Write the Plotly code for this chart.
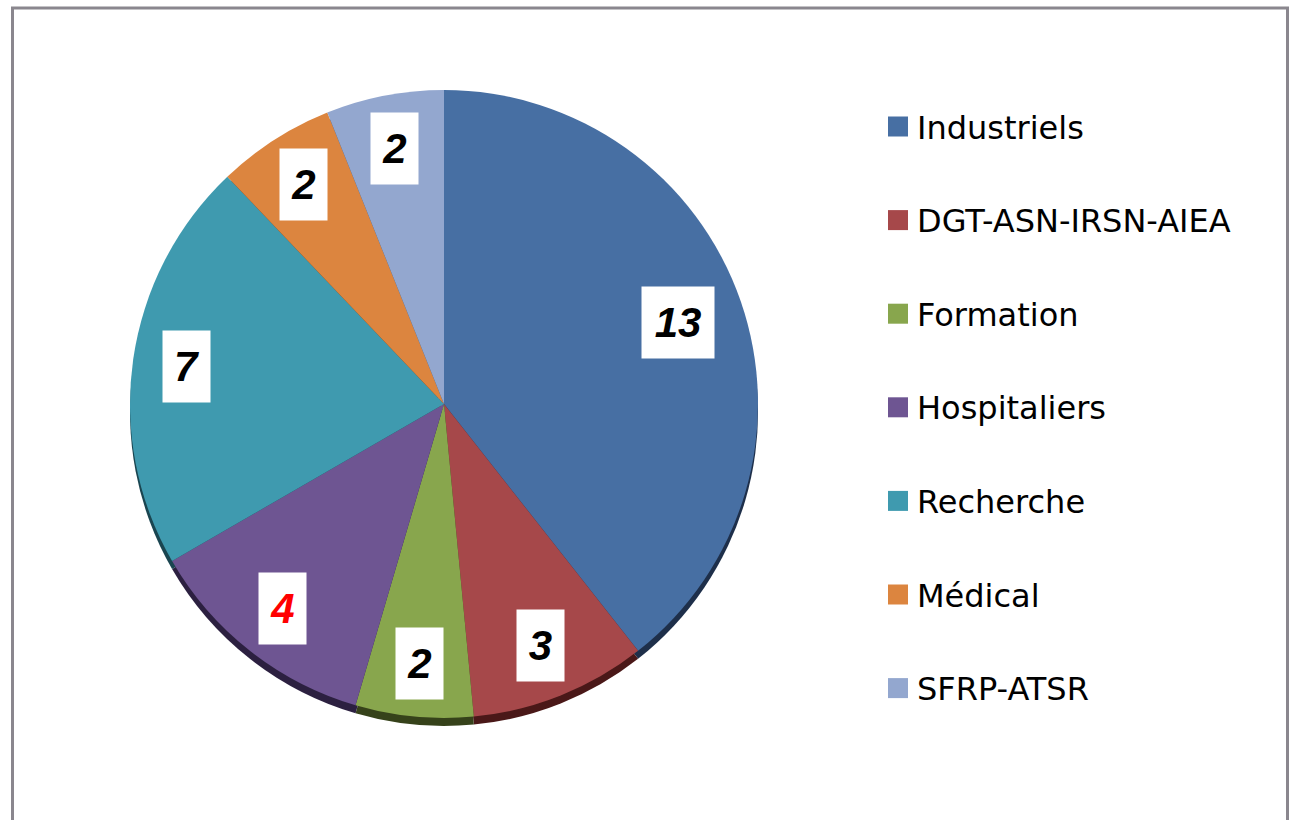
import numpy as np
import plotly.graph_objects as go

# ---- data ----
categories = ["Industriels", "DGT-ASN-IRSN-AIEA", "Formation", "Hospitaliers",
              "Recherche", "Médical", "SFRP-ATSR"]
values = [13, 3, 2, 4, 7, 2, 2]

# ---- style ----
colors = ["#476FA3", "#A6484A", "#88A64D", "#6E5592", "#3F9AAF", "#DC853F", "#93A7CF"]
rim_colors = ["#1E2F4A", "#4A1818", "#36421A", "#2C2040", "#1A4550", "#5E3818", "#3E4A66"]
label_colors = ["#000000"] * 7
label_colors[3] = "#FF0000"

W, H = 1290, 820
cx, cy, R = 444, 404, 314
rim_dy = 8


def dom(cx_, cy_, r_):
    return dict(x=[(cx_ - r_) / W, (cx_ + r_) / W],
                y=[1 - (cy_ + r_) / H, 1 - (cy_ - r_) / H])


fig = go.Figure()
# 3D-like dark rim underneath
fig.add_trace(go.Pie(labels=categories, values=values, sort=False, direction="clockwise",
                     rotation=0, textinfo="none", hoverinfo="skip", showlegend=False,
                     marker=dict(colors=rim_colors, line=dict(width=0)),
                     domain=dom(cx, cy + rim_dy, R)))
fig.add_trace(go.Pie(labels=categories, values=values, sort=False, direction="clockwise",
                     rotation=0, textinfo="none", showlegend=False,
                     marker=dict(colors=colors, line=dict(width=0)),
                     domain=dom(cx, cy, R)))

# data labels in white boxes
vals = np.array(values, dtype=float)
cum = np.cumsum(vals)
mid = (cum - vals / 2) / vals.sum() * 2 * np.pi
annotations = []
for v, a, c in zip(values, mid, label_colors):
    rl = (0.79 if v >= 10 else 0.83) * R
    xp = cx + rl * np.sin(a)
    yp = cy - rl * np.cos(a)
    annotations.append(dict(
        x=xp / W, y=1 - yp / H, xref="paper", yref="paper", showarrow=False,
        text=f"<b><i>{v}</i></b>", font=dict(family="Liberation Sans", size=42, color=c),
        bgcolor="white", width=72 if v >= 10 else 47, height=71, borderpad=0,
        xanchor="center", yanchor="middle"))

# manual legend
shapes = []
leg_y0, leg_step = 126.5, 93.6
for i, (name, col) in enumerate(zip(categories, colors)):
    yc = leg_y0 + i * leg_step
    shapes.append(dict(type="rect", xref="paper", yref="paper",
                       x0=888 / W, x1=908 / W, y0=1 - (yc + 10) / H, y1=1 - (yc - 10) / H,
                       fillcolor=col, line=dict(width=0)))
    annotations.append(dict(x=915 / W, y=1 - (yc + 1) / H, xref="paper", yref="paper",
                            showarrow=False, text=name, xanchor="left",
                            yanchor="middle",
                            font=dict(family="DejaVu Sans", size=32, color="#000000")))

# outer frame
shapes.append(dict(type="rect", xref="paper", yref="paper",
                   x0=12.5 / W, x1=1287.5 / W, y0=-0.05, y1=1 - 8 / H,
                   line=dict(color="#8A878E", width=3), fillcolor="rgba(0,0,0,0)"))

fig.update_layout(width=W, height=H, margin=dict(l=0, r=0, t=0, b=0),
                  paper_bgcolor="white", plot_bgcolor="white",
                  annotations=annotations, shapes=shapes)
fig.write_html("out.html", config={"displayModeBar": False},
               post_script="document.body.style.margin='0';document.body.style.overflow='hidden';")
